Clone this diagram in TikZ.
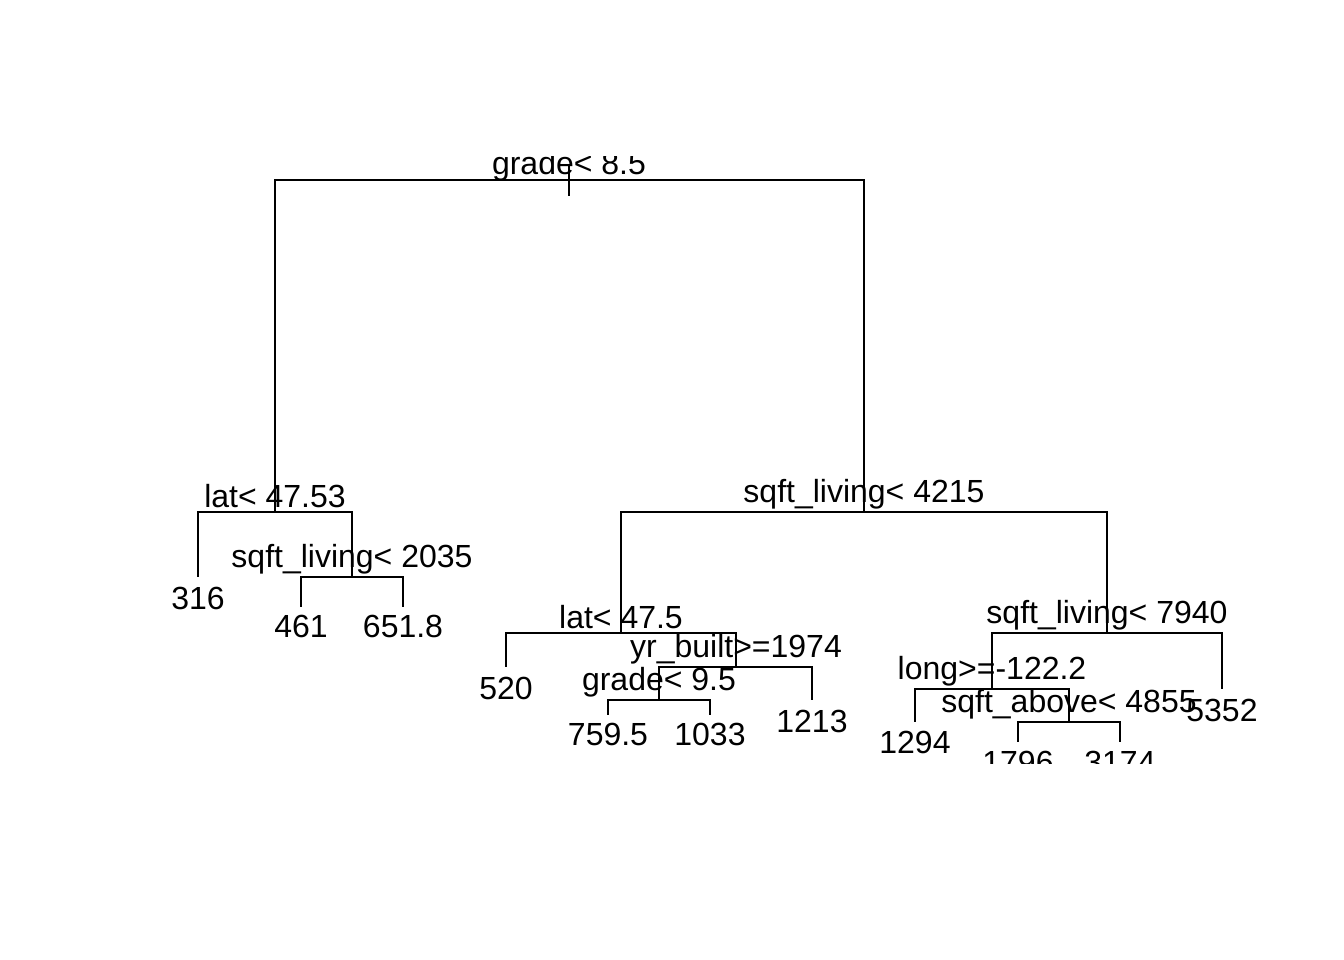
\documentclass[tikz,border=0pt]{standalone}
\usepackage{fontspec}
\setmainfont{Liberation Sans}

\tikzset{
  branch/.style={line width=0.6pt},
  splitlbl/.style={inner sep=0pt, anchor=base, font=\fontsize{9.1}{11}\selectfont},
  leaflbl/.style={inner sep=0pt, anchor=base, font=\fontsize{9.1}{11}\selectfont}
}

\begin{document}
\begin{tikzpicture}[x=0.01cm, y=-0.01cm]
\useasboundingbox (0,0) rectangle (1344,960);
\begin{scope}
\clip (158,156) rectangle (1263,763);
% tree nodes
\coordinate (root) at (569,180);
\coordinate (n2) at (275,512);
\coordinate (n3) at (864,512);
\coordinate (n4) at (198,577);
\coordinate (n5) at (352,577);
\coordinate (n10) at (301,607);
\coordinate (n11) at (403,607);
\coordinate (n6) at (621,633);
\coordinate (n7) at (1107,633);
\coordinate (n12) at (506,667);
\coordinate (n13) at (736,667);
\coordinate (n26) at (659,700);
\coordinate (n27) at (812,700);
\coordinate (n52) at (608,715);
\coordinate (n53) at (710,715);
\coordinate (n14) at (992,689);
\coordinate (n15) at (1222,689);
\coordinate (n28) at (915,722);
\coordinate (n29) at (1069,722);
\coordinate (n58) at (1018,742);
\coordinate (n59) at (1120,742);
% branches
\draw[branch] (root) ++(0,-15) -- ++(0,31);
\draw[branch] (root) -| (n2);
\draw[branch] (root) -| (n3);
\draw[branch] (n2) -| (n4);
\draw[branch] (n2) -| (n5);
\draw[branch] (n5) -| (n10);
\draw[branch] (n5) -| (n11);
\draw[branch] (n3) -| (n6);
\draw[branch] (n3) -| (n7);
\draw[branch] (n6) -| (n12);
\draw[branch] (n6) -| (n13);
\draw[branch] (n13) -| (n26);
\draw[branch] (n13) -| (n27);
\draw[branch] (n26) -| (n52);
\draw[branch] (n26) -| (n53);
\draw[branch] (n7) -| (n14);
\draw[branch] (n7) -| (n15);
\draw[branch] (n14) -| (n28);
\draw[branch] (n14) -| (n29);
\draw[branch] (n29) -| (n58);
\draw[branch] (n29) -| (n59);
% split labels
\node[splitlbl] (s1) at (569,174) {grade< 8.5};
\node[splitlbl] (s2) at (275,507) {lat< 47.53};
\node[splitlbl] (s3) at (864,502) {sqft\_living< 4215};
\node[splitlbl] (s5) at (352,567) {sqft\_living< 2035};
\node[splitlbl] (s6) at (621,628) {lat< 47.5};
\node[splitlbl] (s7) at (1107,623) {sqft\_living< 7940};
\node[splitlbl] (s13) at (736,657) {yr\_built>=1974};
\node[splitlbl] (s26) at (659,690) {grade< 9.5};
\node[splitlbl] (s14) at (992,679) {long>=-122.2};
\node[splitlbl] (s29) at (1069,712) {sqft\_above< 4855};
% leaf labels
\node[leaflbl] (l4) at (198,609) {316};
\node[leaflbl] (l10) at (301,637) {461};
\node[leaflbl] (l11) at (403,637) {651.8};
\node[leaflbl] (l12) at (506,699) {520};
\node[leaflbl] (l27) at (812,732) {1213};
\node[leaflbl] (l52) at (608,745) {759.5};
\node[leaflbl] (l53) at (710,745) {1033};
\node[leaflbl] (l28) at (915,753) {1294};
\node[leaflbl] (l15) at (1222,721) {5352};
\node[leaflbl] (l58) at (1018,773) {1796};
\node[leaflbl] (l59) at (1120,773) {3174};
\end{scope}
\end{tikzpicture}
\end{document}
